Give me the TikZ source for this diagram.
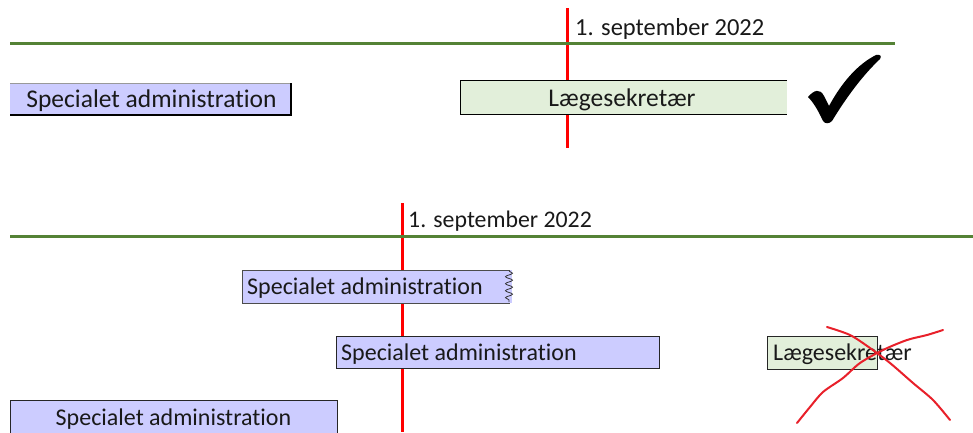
\documentclass[tikz,border=0pt]{standalone}
\usepackage{fontspec}
\setmainfont[Ligatures=NoCommon]{Carlito}
\usetikzlibrary{decorations.pathmorphing}
\definecolor{lav}{HTML}{CCCCFF}
\definecolor{lgreen}{HTML}{E2EFDA}
\definecolor{dgreen}{HTML}{548235}
\definecolor{xred}{HTML}{E8202A}
\tikzset{
  redline/.style={draw=red, line width=3pt},
  greenline/.style={draw=dgreen, line width=3pt},
  lbl/.style={inner sep=0pt, anchor=west, text=black!90},
  border/.style={draw=black, line width=1pt},
  scribble/.style={draw=xred, line width=2pt, line cap=round, line join=round},
}
\begin{document}
\begin{tikzpicture}[x=1pt,y=-1pt]
\useasboundingbox (0,0) rectangle (973,432);
% ---------- top section ----------
\coordinate (r1a) at (567,8);
\coordinate (r1b) at (567,148);
\draw[redline] (r1a) -- (r1b);
\coordinate (g1a) at (10,43);
\coordinate (g1b) at (895,43);
\draw[greenline] (g1a) -- (g1b);
\node[lbl, font=\fontsize{24.5}{26}\selectfont] (date1) at (575,29) {1. september 2022};
% top-left box
\fill[lav] (10,83) rectangle (291,115);
\draw[black!40, line width=0.8pt] (10,83) -- (291,83);
\draw[black, line width=1.6pt] (291,83) -- (291,115) -- (10,115);
\node[lbl, anchor=center, font=\fontsize{25.5}{27}\selectfont] (spa1) at (151.5,101) {Specialet administration};
% top Laegesekretaer box
\fill[lgreen] (460,80) rectangle (787,114);
\draw[border] (787,80) -- (460,80) -- (460,114) -- (787,114);
\node[lbl, anchor=center, font=\fontsize{25.5}{27}\selectfont] (laeg1) at (622,100) {Lægesekretær};
% check mark
\fill[black] (808,97) .. controls (814,90) and (820,88) .. (824,96)
  -- (829,106) .. controls (842,82) and (858,64) .. (876,55)
  .. controls (880,54) and (882,56) .. (880,59)
  .. controls (862,76) and (846,98) .. (832,121)
  .. controls (829,124) and (825,124) .. (823,121)
  .. controls (818,110) and (813,102) .. (808,97) -- cycle;
% ---------- bottom section ----------
\coordinate (r2a) at (402,203);
\coordinate (r2b) at (402,432);
\draw[redline] (r2a) -- (r2b);
\coordinate (g2a) at (10,236);
\coordinate (g2b) at (973,236);
\draw[greenline] (g2a) -- (g2b);
\node[lbl, font=\fontsize{23.8}{25}\selectfont] (date2) at (408,221) {1. september 2022};
% box 1 with squiggle end
\fill[lav] (242,270) rectangle (512,303);
\draw[black!70, line width=0.8pt] (510,270) -- (242,270) -- (242,303) -- (510,303);
\draw[black!80, line width=0.8pt, decorate, decoration={snake, segment length=7pt, amplitude=3.5pt}] (509,271) -- (509,302);
\node[lbl, font=\fontsize{24}{26}\selectfont] (spa2) at (247,288.5) {Specialet administration};
% box 2
\fill[lav] (336,336) rectangle (659,368);
\draw[black!85, line width=0.9pt] (336,336) rectangle (659,368);
\node[lbl, font=\fontsize{24}{26}\selectfont] (spa3) at (341,354) {Specialet administration};
% bottom Laegesekretaer box
\fill[lgreen] (767,336) rectangle (877,369);
\draw[black!85, line width=0.9pt] (767,336) rectangle (877,369);
\node[lbl, font=\fontsize{24}{26}\selectfont] (laeg2) at (773,354) {Lægesekretær};
% red X
\draw[scribble] plot[smooth] coordinates {(827,327) (850,335) (870,348) (890,363) (913,383) (933,400) (950,420)};
\draw[scribble] plot[smooth] coordinates {(797,423) (810,407) (823,392) (843,378) (860,363) (883,350) (907,340) (927,335) (943,330)};
% box 3
\fill[lav] (10,400) rectangle (337,440);
\draw[black!85, line width=0.9pt] (10,440) -- (10,400) -- (337,400) -- (337,440);
\node[lbl, anchor=center, font=\fontsize{24}{26}\selectfont] (spa4) at (173.5,419) {Specialet administration};
\end{tikzpicture}
\end{document}
